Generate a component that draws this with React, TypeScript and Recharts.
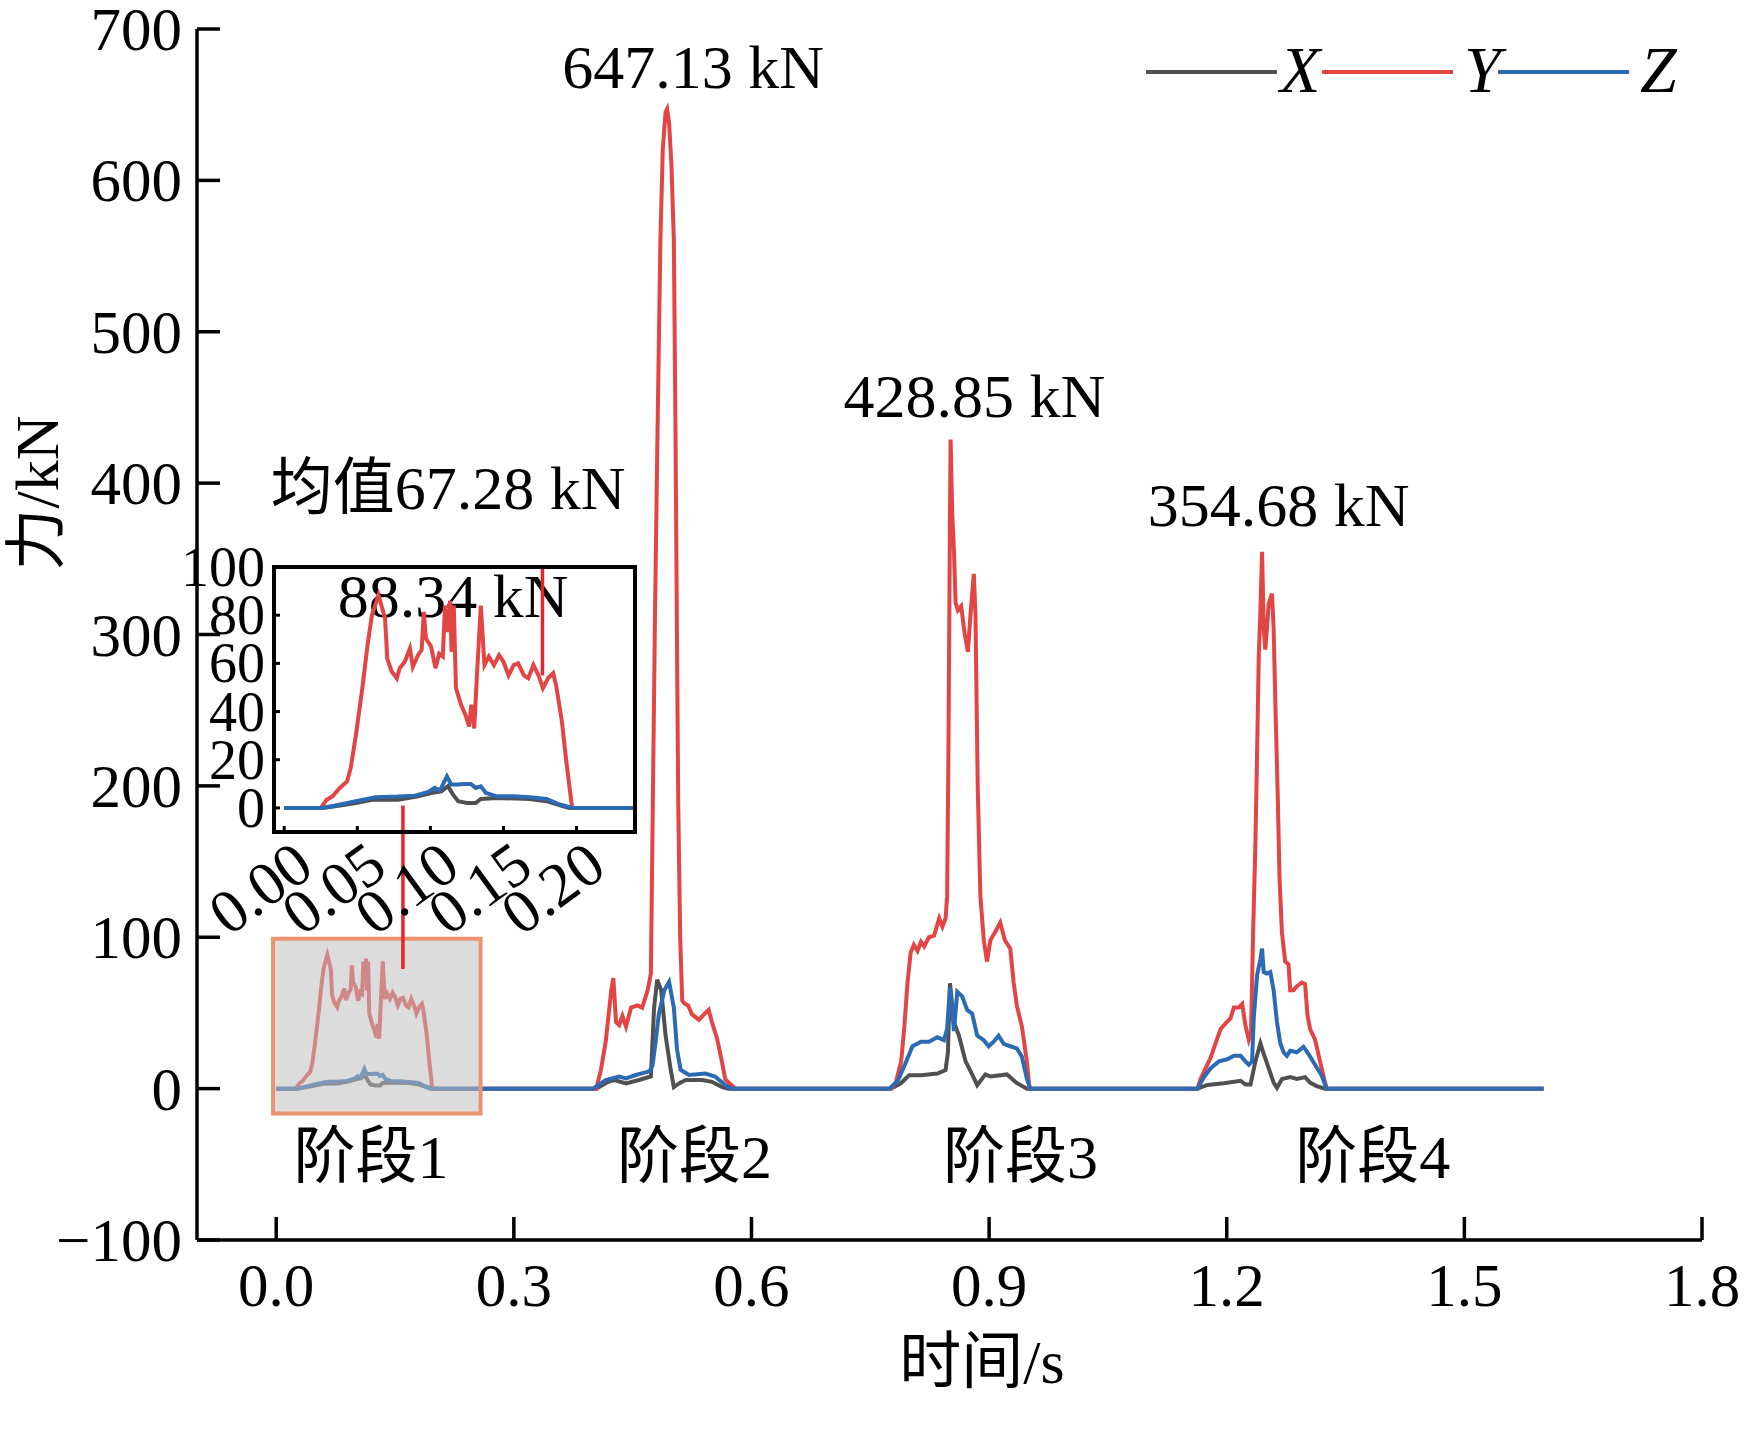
import React from "react";
import {
  LineChart,
  Line,
  XAxis,
  YAxis,
  Legend,
  Label,
  ReferenceArea,
  ReferenceLine,
  ReferenceDot,
} from "recharts";

type Pt = [number, number];

// ---- data: [time (s), force (kN)] ----
const stage1X: Pt[] = [
  [0.026, 0], [0.035, 0.7], [0.049, 2], [0.06, 3.4], [0.078, 3.4], [0.0915, 4.8],
  [0.1005, 6.2], [0.1075, 6.9], [0.112, 9], [0.1155, 5.5], [0.119, 2.8], [0.1255, 2],
  [0.131, 2], [0.1345, 3.7], [0.1455, 4.1], [0.168, 3.7], [0.1795, 2.8], [0.191, 0.7],
  [0.195, 0],
];
const stage1Y: Pt[] = [
  [0.025, 0], [0.029, 3.4], [0.033, 4.8], [0.038, 8.3], [0.043, 11], [0.0455, 16.6],
  [0.049, 30], [0.0535, 50], [0.057, 67.6], [0.06, 80], [0.0645, 88.34], [0.067, 83],
  [0.069, 78.6], [0.0705, 62], [0.0735, 56.6], [0.077, 53.8], [0.079, 58], [0.0825, 60.7],
  [0.086, 66.2], [0.088, 58.6], [0.0915, 63.4], [0.094, 65.5], [0.0955, 81.4], [0.097, 70.3],
  [0.1005, 66.9], [0.1035, 58], [0.106, 64], [0.1085, 62.8], [0.11, 84], [0.112, 73],
  [0.1135, 86], [0.1145, 64.8], [0.116, 84], [0.1175, 49.7], [0.121, 42.8], [0.124, 38.6],
  [0.1265, 33.8], [0.128, 42.8], [0.13, 33], [0.132, 56.6], [0.1345, 84], [0.137, 59.3],
  [0.14, 62.8], [0.1435, 59.3], [0.147, 63.4], [0.15, 60.7], [0.1535, 55], [0.157, 59.3],
  [0.16, 60], [0.164, 55], [0.167, 53.8], [0.1705, 59.3], [0.174, 55], [0.177, 49.7],
  [0.1805, 53.8], [0.184, 55.9], [0.186, 51], [0.19, 35.9], [0.193, 19.3], [0.197, 0],
];
const stage1Z: Pt[] = [
  [0.026, 0], [0.035, 1], [0.049, 2.8], [0.0625, 4.4], [0.078, 4.7], [0.0895, 5.1],
  [0.0985, 6.6], [0.103, 8.3], [0.1065, 7.2], [0.1113, 13.1], [0.1142, 9.7], [0.1187, 9.7],
  [0.1232, 9.9], [0.1277, 9.9], [0.131, 8.3], [0.1345, 9], [0.138, 6.2], [0.1455, 4.8],
  [0.157, 4.8], [0.168, 4.4], [0.1795, 3.7], [0.1885, 1.4], [0.1975, 0],
];

const stage2X: Pt[] = [
  [0.404, 0], [0.419, 4.5], [0.427, 5.7], [0.4416, 3.4], [0.458, 5.7], [0.473, 8],
  [0.477, 53], [0.481, 72], [0.486, 65], [0.4916, 35], [0.498, 12.5], [0.502, 1],
  [0.5085, 3.4], [0.517, 5.7], [0.538, 5.7], [0.55, 4.5], [0.563, 1], [0.571, 0],
];
const stage2Y: Pt[] = [
  [0.404, 0], [0.41, 12.5], [0.416, 31], [0.423, 65], [0.4256, 73], [0.429, 44],
  [0.433, 42], [0.437, 48], [0.4416, 41], [0.448, 53.5], [0.456, 55], [0.462, 53.5],
  [0.469, 65], [0.473, 76], [0.475, 167], [0.478, 304], [0.481, 420], [0.485, 560],
  [0.488, 620], [0.4915, 645], [0.4935, 647.13], [0.496, 638], [0.499, 610], [0.502, 560],
  [0.504, 440], [0.5055, 330], [0.5075, 190], [0.51, 100], [0.5126, 58], [0.516, 56],
  [0.52, 55], [0.525, 49], [0.5336, 45.5], [0.54, 49], [0.546, 52], [0.55, 44],
  [0.5566, 33], [0.563, 17], [0.567, 6], [0.575, 2.3], [0.5796, 0],
];
const stage2Z: Pt[] = [
  [0.4, 0], [0.416, 5.7], [0.433, 8], [0.4416, 6.8], [0.454, 9], [0.471, 11.4],
  [0.475, 15], [0.479, 31], [0.483, 49], [0.49, 65], [0.496, 70.6], [0.502, 53.5],
  [0.506, 26], [0.5105, 12.5], [0.521, 9], [0.542, 10], [0.554, 8], [0.567, 2.3],
  [0.575, 0],
];

const stage3X: Pt[] = [
  [0.776, 0], [0.789, 3.7], [0.799, 8.9], [0.814, 8.9], [0.8347, 10], [0.845, 12.3],
  [0.848, 23.8], [0.8506, 69.6], [0.8556, 43.8], [0.8619, 35], [0.8703, 18], [0.8786, 9.4],
  [0.885, 2.3], [0.8954, 9.4], [0.9016, 8], [0.9225, 9.4], [0.935, 3.7], [0.9477, 0],
];
const stage3Y: Pt[] = [
  [0.776, 0], [0.782, 3.7], [0.789, 18], [0.793, 41], [0.797, 70], [0.801, 90],
  [0.805, 95], [0.8096, 91], [0.814, 97], [0.818, 94], [0.824, 100], [0.8305, 101],
  [0.837, 112.5], [0.841, 107], [0.8451, 112.5], [0.847, 127], [0.8485, 213], [0.8497, 304],
  [0.8506, 379], [0.8514, 428.85], [0.8535, 379], [0.8556, 356], [0.8577, 321], [0.8606, 316],
  [0.8648, 318.7], [0.869, 301], [0.8732, 288.6], [0.8765, 313], [0.8807, 340], [0.8828, 313],
  [0.884, 264], [0.8857, 198], [0.889, 127], [0.8933, 98], [0.8974, 84], [0.9016, 98],
  [0.9066, 102.5], [0.914, 109.7], [0.92, 98], [0.9267, 92.5], [0.931, 70], [0.935, 55],
  [0.9414, 41], [0.9477, 18], [0.951, 0],
];
const stage3Z: Pt[] = [
  [0.774, 0], [0.7845, 5], [0.793, 15], [0.8033, 28], [0.814, 31], [0.824, 31],
  [0.8347, 34], [0.843, 32], [0.847, 39.5], [0.8506, 66.7], [0.8535, 52], [0.8556, 38],
  [0.8598, 64], [0.866, 61], [0.8723, 52], [0.8786, 49.5], [0.885, 35], [0.8933, 32],
  [0.8995, 28], [0.9058, 31], [0.912, 35], [0.9184, 29.5], [0.9267, 28], [0.935, 26.6],
  [0.9414, 21], [0.9477, 6.6], [0.952, 0],
];

const stage4X: Pt[] = [
  [1.163, 0], [1.1755, 2.4], [1.1964, 3.5], [1.2174, 5.2], [1.2236, 2.8], [1.23, 2.8],
  [1.2362, 18], [1.2425, 30], [1.2467, 23], [1.2529, 13.5], [1.2592, 4], [1.2634, 0.5],
  [1.2697, 6.4], [1.2801, 7.6], [1.2885, 6.4], [1.2989, 7.6], [1.3052, 4], [1.3136, 1.7],
  [1.324, 0],
];
const stage4Y: Pt[] = [
  [1.163, 0], [1.167, 6.4], [1.1734, 13.5], [1.1797, 20.5], [1.186, 30], [1.1923, 39.4],
  [1.1985, 43], [1.2048, 46.5], [1.209, 53.6], [1.2153, 53.6], [1.2195, 56], [1.2236, 41.8],
  [1.2278, 32.3], [1.2307, 37], [1.2333, 103], [1.2362, 162], [1.2383, 221], [1.2404, 285],
  [1.2425, 315.5], [1.2446, 354.68], [1.2467, 304], [1.2487, 290], [1.2508, 304], [1.2529, 320],
  [1.2571, 327], [1.2592, 304], [1.2613, 256.5], [1.2642, 197.5], [1.2667, 138.5], [1.2697, 103],
  [1.2738, 84], [1.278, 82], [1.2801, 65], [1.2843, 65], [1.2885, 67.7], [1.2948, 70],
  [1.2989, 69], [1.3019, 48.9], [1.3052, 39.4], [1.3115, 32.3], [1.3178, 18], [1.322, 8.7],
  [1.3261, 0],
];
const stage4Z: Pt[] = [
  [1.163, 0], [1.1713, 7.6], [1.1797, 13.5], [1.1902, 18], [1.2006, 19.4], [1.209, 21.7],
  [1.2174, 21.7], [1.2236, 18], [1.2278, 15.8], [1.232, 18], [1.2341, 46.5], [1.2362, 60.6],
  [1.2383, 74.8], [1.2425, 85.4], [1.2446, 92.5], [1.2467, 77], [1.2508, 76], [1.255, 77],
  [1.2592, 65], [1.2634, 44], [1.2676, 30], [1.2717, 24], [1.2759, 21.7], [1.2801, 25],
  [1.2885, 24], [1.2969, 27.6], [1.3031, 23], [1.3115, 15.8], [1.3199, 8.7], [1.3261, 0],
];

const recordEnd = 1.6;

const timeTicks = [0, 0.3, 0.6, 0.9, 1.2, 1.5, 1.8];
const forceTicks = [-100, 0, 100, 200, 300, 400, 500, 600, 700];
const insetTimeTicks = [0, 0.05, 0.1, 0.15, 0.2];
const insetForceTicks = [0, 20, 40, 60, 80, 100];

const peakLabels = ["647.13 kN", "428.85 kN", "354.68 kN"];
const stageLabels = ["阶段1", "阶段2", "阶段3", "阶段4"];
const meanLabel = "均值67.28 kN";
const stage1PeakLabel = "88.34 kN";

// ---- layout (data-space anchors for the text) ----
const peakLabelAt: Pt[] = [[0.5265, 661], [0.8815, 444], [1.2655, 372]];
const stageLabelAt: Pt[] = [[0.1198, -59], [0.528, -59], [0.9397, -59], [1.3843, -59]];

const SERIF = "'Liberation Serif', 'Times New Roman', 'Noto Sans CJK SC', serif";
const GRAY = "#505050";
const RED = "#e34444";
const BLUE = "#2c6ab3";
const POINTER = "#e3262a";
const LINE_W = 4;

function buildSeries(stages: Pt[][], end: number) {
  const pts = [{ t: 0, f: 0 }];
  stages.forEach((s) => s.forEach(([t, f]) => pts.push({ t, f })));
  pts.push({ t: end, f: 0 });
  return pts;
}

const seriesX = buildSeries([stage1X, stage2X, stage3X, stage4X], recordEnd);
const seriesY = buildSeries([stage1Y, stage2Y, stage3Y, stage4Y], recordEnd);
const seriesZ = buildSeries([stage1Z, stage2Z, stage3Z, stage4Z], recordEnd);
const insetX = buildSeries([stage1X], 0.3);
const insetY = buildSeries([stage1Y], 0.3);
const insetZ = buildSeries([stage1Z], 0.3);

const fmtForce = (v: number) => (v < 0 ? `\u2212${Math.abs(v)}` : `${v}`);

const MainYTick = (props: any) => {
  const { x, y, payload } = props;
  return (
    <g>
      <line x1={x + 15} x2={x + 38} y1={y} y2={y} stroke="#000" strokeWidth={3.5} />
      <text x={x} y={y + 21} textAnchor="end" fontFamily={SERIF} fontSize={61} fill="#000">
        {fmtForce(payload.value)}
      </text>
    </g>
  );
};

const MainXTick = (props: any) => {
  const { x, y, payload } = props;
  return (
    <g>
      <line x1={x} x2={x} y1={y} y2={y - 23} stroke="#000" strokeWidth={3.5} />
      <text x={x} y={y + 66} textAnchor="middle" fontFamily={SERIF} fontSize={61} fill="#000">
        {payload.value.toFixed(1)}
      </text>
    </g>
  );
};

const InsetYTick = (props: any) => {
  const { x, y, payload } = props;
  return (
    <g>
      <line x1={x + 9} x2={x + 15} y1={y} y2={y} stroke="#000" strokeWidth={3} />
      <text x={x} y={y + 19} textAnchor="end" fontFamily={SERIF} fontSize={56} fill="#000">
        {payload.value}
      </text>
    </g>
  );
};

const InsetXTick = (props: any) => {
  const { x, y, payload } = props;
  const cx = x - 24;
  const cy = y + 56;
  return (
    <g>
      <line x1={x} x2={x} y1={y} y2={y - 6} stroke="#000" strokeWidth={3} />
      <text
        x={cx}
        y={cy + 21}
        textAnchor="middle"
        fontFamily={SERIF}
        fontSize={62}
        fill="#000"
        transform={`rotate(-36 ${cx} ${cy})`}
      >
        {payload.value.toFixed(2)}
      </text>
    </g>
  );
};

const TextMark = (props: any) => {
  const { viewBox, text, anchor = "middle", size = 62 } = props;
  return (
    <text
      x={viewBox.x + viewBox.width / 2}
      y={viewBox.y + viewBox.height / 2}
      textAnchor={anchor}
      fontFamily={SERIF}
      fontSize={size}
      fill="#000"
    >
      {text}
    </text>
  );
};

const LegendContent = (props: any) => {
  const items = props.payload || [];
  return (
    <svg width={560} height={80}>
      {items.map((it: any, i: number) => {
        const x0 = i * 176;
        return (
          <g key={it.value}>
            <line x1={x0} x2={x0 + 131} y1={42} y2={42} stroke={it.color} strokeWidth={4} />
            <text
              x={x0 + 134 + (i === 0 ? 0 : 8)}
              y={62}
              fontFamily={SERIF}
              fontStyle="italic"
              fontSize={66}
              fill="#000"
            >
              {it.value}
            </text>
          </g>
        );
      })}
    </svg>
  );
};

export default function App() {
  return (
    <div
      style={{
        position: "absolute",
        left: 0,
        top: 0,
        width: 1753,
        height: 1434,
        background: "#fff",
        overflow: "hidden",
      }}
    >
      <LineChart width={1753} height={1434} margin={{ top: 29, right: 51, bottom: 0, left: 0 }}>
        <XAxis
          type="number"
          dataKey="t"
          domain={[-0.1, 1.8]}
          ticks={timeTicks}
          interval={0}
          allowDataOverflow
          height={194}
          tickSize={0}
          tickMargin={0}
          tickLine={false}
          axisLine={{ stroke: "#000", strokeWidth: 3.5 }}
          tick={<MainXTick />}
        >
          <Label
            content={(p: any) => (
              <text
                x={p.viewBox.x + 785}
                y={p.viewBox.y + 143}
                textAnchor="middle"
                fontFamily={SERIF}
                fontSize={62}
                fill="#000"
              >
                时间/s
              </text>
            )}
          />
        </XAxis>
        <YAxis
          type="number"
          domain={[-100, 700]}
          ticks={forceTicks}
          interval={0}
          allowDataOverflow
          width={197}
          tickSize={0}
          tickMargin={15}
          tickLine={false}
          axisLine={{ stroke: "#000", strokeWidth: 3.5 }}
          tick={<MainYTick />}
        >
          <Label
            content={() => (
              <text
                x={58}
                y={493}
                textAnchor="middle"
                fontFamily={SERIF}
                fontSize={62}
                fill="#000"
                transform="rotate(-90 58 493)"
              >
                力/kN
              </text>
            )}
          />
        </YAxis>
        <Legend
          layout="horizontal"
          verticalAlign="middle"
          align="center"
          content={<LegendContent />}
          wrapperStyle={{ position: "absolute", left: 1146, top: 30, width: 560, height: 80 }}
        />
        <Line data={seriesX} dataKey="f" name="X" stroke={GRAY} strokeWidth={LINE_W} dot={false} isAnimationActive={false} />
        <Line data={seriesY} dataKey="f" name="Y" stroke={RED} strokeWidth={LINE_W} dot={false} isAnimationActive={false} />
        <Line data={seriesZ} dataKey="f" name="Z" stroke={BLUE} strokeWidth={LINE_W} dot={false} isAnimationActive={false} />
        <ReferenceArea
          x1={-0.004}
          x2={0.258}
          y1={-16.5}
          y2={99}
          fill="#c0c0c0"
          fillOpacity={0.55}
          stroke="#ec9470"
          strokeWidth={4}
          ifOverflow="visible"
          {...({ zIndex: 450 } as any)}
        />
        <ReferenceLine
          segment={[{ x: 0.16, y: 79 }, { x: 0.16, y: 187 }]}
          stroke={POINTER}
          strokeWidth={3.5}
          ifOverflow="visible"
          {...({ zIndex: 460 } as any)}
        />
        {peakLabels.map((txt, i) => (
          <ReferenceDot
            key={txt}
            x={peakLabelAt[i][0]}
            y={peakLabelAt[i][1]}
            r={1}
            fill="none"
            stroke="none"
            label={<TextMark text={txt} />}
          />
        ))}
        {stageLabels.map((txt, i) => (
          <ReferenceDot
            key={txt}
            x={stageLabelAt[i][0]}
            y={stageLabelAt[i][1]}
            r={1}
            fill="none"
            stroke="none"
            label={<TextMark text={txt} />}
          />
        ))}
        <ReferenceDot x={-0.007} y={383} r={1} fill="none" stroke="none" label={<TextMark text={meanLabel} anchor="start" />} />
        <ReferenceDot x={0.2235} y={311.6} r={1} fill="none" stroke="none" label={<TextMark text={stage1PeakLabel} size={62} />} />
      </LineChart>

      <div style={{ position: "absolute", left: 164, top: 527 }}>
        <LineChart width={481} height={425} margin={{ top: 40, right: 10, bottom: 0, left: 0 }}>
          <XAxis
            type="number"
            dataKey="t"
            domain={[-0.007, 0.24]}
            ticks={insetTimeTicks}
            interval={0}
            allowDataOverflow
            height={120}
            tickSize={0}
            tickMargin={0}
            tickLine={false}
            axisLine={false}
            tick={<InsetXTick />}
          />
          <YAxis
            type="number"
            domain={[-10, 100]}
            ticks={insetForceTicks}
            interval={0}
            allowDataOverflow
            width={110}
            tickSize={0}
            tickMargin={9}
            tickLine={false}
            axisLine={false}
            tick={<InsetYTick />}
          />
          <Line data={insetX} dataKey="f" name="X" stroke={GRAY} strokeWidth={LINE_W} dot={false} isAnimationActive={false} />
          <Line data={insetY} dataKey="f" name="Y" stroke={RED} strokeWidth={LINE_W} dot={false} isAnimationActive={false} />
          <Line data={insetZ} dataKey="f" name="Z" stroke={BLUE} strokeWidth={LINE_W} dot={false} isAnimationActive={false} />
          <ReferenceLine
            segment={[{ x: 0.1767, y: 55 }, { x: 0.1767, y: 100 }]}
            stroke={POINTER}
            strokeWidth={3.5}
          />
          <ReferenceArea
            x1={-0.007}
            x2={0.24}
            y1={-10}
            y2={100}
            fill="none"
            stroke="#000"
            strokeWidth={4}
            ifOverflow="visible"
            {...({ zIndex: 450 } as any)}
          />
        </LineChart>
      </div>
    </div>
  );
}
